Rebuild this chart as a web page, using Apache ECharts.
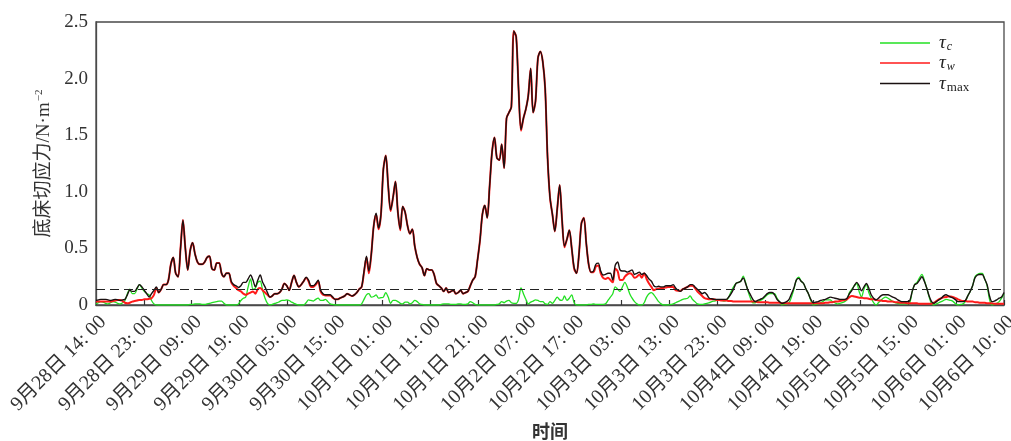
<!DOCTYPE html>
<html>
<head>
<meta charset="utf-8">
<script src="https://cdn.jsdelivr.net/npm/echarts@6/dist/echarts.min.js"></script>
<style>html,body{margin:0;padding:0;background:#fff}#c{width:1011px;height:441px}</style>
</head>
<body>
<div id="c"></div>
<script>
// sampling step of the series, hours from 9月28日 14:00
const STEP_HOURS = 0.5;
const TOTAL_HOURS = 188;
const tickLabels = ['9月28日 14: 00','9月28日 23: 00','9月29日 09: 00','9月29日 19: 00','9月30日 05: 00','9月30日 15: 00','10月1日 01: 00','10月1日 11: 00','10月1日 21: 00','10月2日 07: 00','10月2日 17: 00','10月3日 03: 00','10月3日 13: 00','10月3日 23: 00','10月4日 09: 00','10月4日 19: 00','10月5日 05: 00','10月5日 15: 00','10月6日 01: 00','10月6日 10: 00'];
const yTicks = [0, 0.5, 1.0, 1.5, 2.0, 2.5];
const threshold = 0.14;

const tauC = [
0.01,0.02,0.03,0.025,0.015,0.01,0.02,0.03,0.025,0.015,
0.01,0.02,0.04,0.1,0.14,0.1,0.1,0.14,0.18,0.15,
0.12,0.1,0.09,0.04,0.01,0,0,0,0,0,
0,0,0,0,0,0,0,0,0,0.005,
0.005,0.01,0.01,0.01,0.005,0.005,0.01,0.015,0.02,0.025,
0.03,0.035,0.035,0.015,0,0,0,0,0,0.01,
0.04,0.06,0.07,0.16,0.23,0.14,0.15,0.2,0.21,0.13,
0.06,0.015,0,0.005,0.015,0.02,0.03,0.04,0.04,0.045,
0.04,0.025,0.015,0.005,0,0,0,0.02,0.045,0.04,
0.035,0.05,0.06,0.04,0.04,0.05,0.03,0.01,0.005,0,
0,0,0,0,0,0,0,0,0,0,
0.01,0.05,0.09,0.1,0.07,0.075,0.09,0.06,0.065,0.07,
0.11,0.07,0.015,0.04,0.04,0.03,0.015,0.01,0.025,0.025,
0.01,0.02,0.04,0.03,0.01,0.005,0,0,0,0,
0,0,0,0.005,0.01,0.01,0.01,0.005,0.005,0.005,
0.01,0.01,0.005,0.005,0.01,0.03,0.02,0.005,0,0,
0,0,0,0,0,0,0.005,0.01,0.03,0.02,
0.035,0.04,0.02,0.015,0.015,0.05,0.15,0.1,0.05,0.01,
0.025,0.035,0.045,0.04,0.03,0.03,0.01,0.005,0.03,0.015,
0.04,0.07,0.045,0.04,0.08,0.04,0.06,0.09,0.02,0,
0,0,0,0,0.005,0.005,0.01,0.005,0.005,0.005,
0.005,0.01,0.04,0.07,0.1,0.16,0.14,0.12,0.16,0.2,
0.16,0.1,0.06,0.03,0.01,0,0,0.02,0.07,0.1,
0.11,0.09,0.06,0.03,0.01,0,0,0,0.005,0.01,
0.02,0.03,0.04,0.05,0.055,0.06,0.08,0.05,0.03,0.01,
0.005,0.005,0.01,0.015,0.02,0.03,0.035,0.04,0.045,0.04,
0.035,0.04,0.07,0.12,0.16,0.19,0.2,0.21,0.255,0.2,
0.12,0.06,0.02,0.02,0.03,0.04,0.05,0.07,0.09,0.1,
0.1,0.1,0.06,0.03,0,0.005,0.01,0.02,0.07,0.14,
0.22,0.245,0.21,0.19,0.14,0.1,0.04,0,0.005,0.01,
0.02,0.03,0.045,0.045,0.045,0.03,0.02,0.01,0.015,0.02,
0.03,0.05,0.11,0.14,0.17,0.19,0.12,0.07,0.14,0.18,
0.11,0.06,0.02,0,0.02,0.04,0.06,0.07,0.06,0.045,
0.03,0.02,0.015,0.01,0.01,0.01,0.01,0.02,0.12,0.18,
0.2,0.24,0.27,0.22,0.15,0.07,0.01,0,0.01,0.02,
0.03,0.04,0.05,0.045,0.04,0.03,0.01,0,0.005,0.01,
0.03,0.08,0.12,0.17,0.25,0.27,0.28,0.28,0.23,0.17,
0.05,0,0.005,0.015,0.03,0.06,0.1
];

const tauW = [
0.03,0.03,0.03,0.03,0.03,0.03,0.03,0.035,0.04,0.045,
0.045,0.035,0.02,0.015,0.02,0.03,0.035,0.04,0.045,0.045,
0.05,0.05,0.055,0.06,0.09,0.15,0.11,0.14,0.18,0.18,
0.22,0.36,0.42,0.28,0.25,0.5,0.75,0.5,0.31,0.48,
0.55,0.45,0.38,0.36,0.36,0.38,0.42,0.43,0.32,0.31,
0.37,0.37,0.28,0.25,0.28,0.28,0.2,0.17,0.15,0.13,
0.12,0.1,0.09,0.1,0.11,0.12,0.1,0.14,0.15,0.13,
0.11,0.09,0.07,0.08,0.10,0.10,0.11,0.14,0.19,0.17,
0.13,0.2,0.26,0.2,0.16,0.18,0.21,0.24,0.21,0.16,
0.16,0.18,0.21,0.12,0.09,0.085,0.085,0.085,0.065,0.05,
0.05,0.06,0.07,0.08,0.10,0.09,0.08,0.09,0.11,0.14,
0.16,0.29,0.42,0.28,0.45,0.7,0.8,0.67,0.8,1.2,
1.32,1.05,0.83,0.95,1.09,0.82,0.66,0.87,0.82,0.70,
0.63,0.67,0.52,0.42,0.36,0.33,0.26,0.32,0.31,0.31,
0.27,0.19,0.17,0.15,0.12,0.15,0.11,0.12,0.13,0.10,
0.11,0.13,0.10,0.11,0.12,0.17,0.22,0.25,0.40,0.57,
0.80,0.88,0.77,1.05,1.35,1.48,1.30,1.28,1.42,1.21,
1.65,1.7,1.75,2.42,2.37,1.9,1.54,1.65,1.73,1.85,
2.09,1.7,1.8,2.18,2.24,2.15,1.91,1.3,0.95,0.8,
0.65,0.85,1.06,0.75,0.51,0.58,0.66,0.5,0.32,0.28,
0.45,0.72,0.77,0.55,0.36,0.29,0.29,0.34,0.35,0.28,
0.24,0.23,0.24,0.22,0.2,0.32,0.3,0.22,0.22,0.25,
0.27,0.28,0.27,0.24,0.25,0.27,0.24,0.28,0.23,0.19,
0.16,0.13,0.14,0.145,0.15,0.15,0.155,0.16,0.16,0.16,
0.13,0.125,0.125,0.14,0.15,0.16,0.17,0.17,0.15,0.12,
0.1,0.08,0.06,0.055,0.05,0.05,0.05,0.045,0.045,0.04,
0.04,0.04,0.035,0.035,0.03,0.03,0.03,0.03,0.03,0.03,
0.03,0.03,0.03,0.03,0.025,0.025,0.025,0.025,0.025,0.02,
0.02,0.02,0.02,0.02,0.015,0.015,0.015,0.015,0.015,0.015,
0.015,0.015,0.015,0.015,0.015,0.015,0.015,0.015,0.015,0.015,
0.015,0.015,0.02,0.02,0.025,0.025,0.03,0.03,0.035,0.04,
0.045,0.05,0.07,0.08,0.075,0.07,0.065,0.065,0.06,0.06,
0.055,0.05,0.05,0.045,0.04,0.04,0.035,0.035,0.03,0.03,
0.03,0.025,0.025,0.02,0.02,0.02,0.015,0.015,0.015,0.015,
0.015,0.01,0.01,0.01,0.01,0.01,0.01,0.02,0.035,0.05,
0.06,0.068,0.07,0.075,0.075,0.07,0.06,0.05,0.04,0.035,
0.035,0.03,0.03,0.03,0.025,0.025,0.02,0.02,0.02,0.015,
0.015,0.015,0.01,0.01,0.01,0.01,0.01
];

const tauMax = [
0.04,0.045,0.05,0.05,0.05,0.045,0.04,0.045,0.05,0.045,
0.04,0.045,0.05,0.09,0.13,0.12,0.12,0.15,0.18,0.16,
0.13,0.10,0.07,0.10,0.13,0.16,0.11,0.14,0.18,0.18,
0.22,0.36,0.42,0.28,0.25,0.5,0.75,0.5,0.31,0.48,
0.55,0.45,0.38,0.36,0.36,0.38,0.42,0.43,0.32,0.31,
0.37,0.37,0.28,0.25,0.28,0.28,0.21,0.18,0.17,0.155,
0.17,0.2,0.2,0.23,0.265,0.22,0.16,0.22,0.265,0.2,
0.16,0.11,0.07,0.08,0.10,0.10,0.11,0.14,0.19,0.17,
0.13,0.2,0.26,0.2,0.16,0.18,0.21,0.245,0.22,0.17,
0.17,0.19,0.22,0.13,0.10,0.09,0.09,0.09,0.07,0.05,
0.05,0.06,0.07,0.08,0.10,0.09,0.08,0.09,0.11,0.14,
0.16,0.3,0.43,0.3,0.45,0.7,0.81,0.68,0.8,1.2,
1.32,1.05,0.84,0.95,1.09,0.82,0.67,0.87,0.82,0.70,
0.63,0.67,0.52,0.42,0.36,0.33,0.26,0.32,0.31,0.31,
0.27,0.19,0.17,0.15,0.12,0.15,0.11,0.12,0.13,0.10,
0.11,0.13,0.10,0.11,0.12,0.17,0.22,0.25,0.40,0.57,
0.80,0.88,0.77,1.05,1.35,1.48,1.30,1.28,1.42,1.21,
1.65,1.7,1.75,2.42,2.37,1.9,1.55,1.65,1.73,1.85,
2.09,1.7,1.8,2.18,2.24,2.15,1.91,1.3,0.95,0.8,
0.65,0.85,1.06,0.75,0.52,0.58,0.66,0.5,0.33,0.28,
0.45,0.72,0.77,0.55,0.36,0.29,0.30,0.36,0.37,0.30,
0.265,0.27,0.28,0.28,0.22,0.35,0.38,0.31,0.30,0.30,
0.29,0.30,0.31,0.27,0.28,0.29,0.27,0.28,0.26,0.23,
0.21,0.17,0.16,0.165,0.16,0.16,0.17,0.17,0.17,0.18,
0.15,0.13,0.12,0.14,0.15,0.16,0.18,0.18,0.16,0.14,
0.12,0.10,0.11,0.09,0.06,0.055,0.05,0.05,0.05,0.05,
0.05,0.05,0.07,0.10,0.14,0.19,0.2,0.21,0.24,0.19,
0.13,0.09,0.05,0.03,0.04,0.05,0.06,0.08,0.10,0.11,
0.11,0.09,0.05,0.03,0.015,0.02,0.03,0.05,0.1,0.15,
0.22,0.235,0.21,0.19,0.14,0.10,0.05,0.02,0.025,0.03,
0.04,0.045,0.05,0.06,0.07,0.065,0.06,0.055,0.05,0.05,
0.05,0.06,0.10,0.13,0.17,0.2,0.17,0.125,0.16,0.19,
0.15,0.09,0.06,0.045,0.06,0.08,0.09,0.09,0.09,0.08,
0.07,0.06,0.045,0.035,0.03,0.03,0.03,0.04,0.12,0.18,
0.19,0.22,0.25,0.21,0.15,0.08,0.03,0.015,0.03,0.045,
0.06,0.08,0.09,0.08,0.07,0.06,0.045,0.03,0.03,0.03,
0.04,0.08,0.12,0.17,0.24,0.265,0.27,0.27,0.23,0.18,
0.08,0.03,0.035,0.045,0.06,0.07,0.11
];

const SERIF = 'Liberation Serif, "Times New Roman", "Noto Sans CJK SC", serif';
const tickHours = tickLabels.map((_, k) => k * TOTAL_HOURS / (tickLabels.length - 1));
const toPairs = arr => arr.map((v, i) => [i * STEP_HOURS, v]);
const LINE_ICON = 'path://M0,0H50V1.6H0Z';

const chart = echarts.init(document.getElementById('c'), null, {renderer: 'canvas'});
chart.setOption({
  animation: false,
  backgroundColor: '#fff',
  grid: {left: 96, right: 7, top: 22, bottom: 136, containLabel: false, outerBoundsMode: 'none',
         show: true, borderColor: '#4a4a4a', borderWidth: 1.3},
  legend: {
    orient: 'vertical', left: 875, top: 28, itemWidth: 50, itemHeight: 14, itemGap: 0,
    icon: LINE_ICON,
    data: ['tc', 'tw', 'tmax'],
    formatter: n => ({tc: '{t|τ}{s|c}', tw: '{t|τ}{s|w}', tmax: '{t|τ}{m|max}'})[n],
    textStyle: {
      rich: {
        t: {fontFamily: SERIF, fontStyle: 'italic', fontSize: 19, lineHeight: 20, color: '#222', padding: [0, 0, 0, 4]},
        s: {fontFamily: SERIF, fontStyle: 'italic', fontSize: 12, lineHeight: 12, color: '#222', padding: [8, 0, 0, 1]},
        m: {fontFamily: SERIF, fontSize: 13, lineHeight: 12, color: '#222', padding: [8, 0, 0, 1]}
      }
    }
  },
  xAxis: {
    type: 'value', min: 0, max: TOTAL_HOURS,
    name: '时间', nameLocation: 'middle', nameGap: 119,
    nameTextStyle: {fontFamily: SERIF, fontSize: 18, fontWeight: 'bold', color: '#333'},
    axisLine: {show: true, lineStyle: {color: '#4a4a4a', width: 1.3}},
    axisTick: {show: true, inside: true, length: 5, customValues: tickHours, lineStyle: {color: '#333', width: 1.2}},
    axisLabel: {
      customValues: tickHours, rotate: 45, margin: 7, verticalAlign: 'top',
      fontFamily: SERIF, fontSize: 20, color: '#333',
      formatter: v => tickLabels[Math.round(v * (tickLabels.length - 1) / TOTAL_HOURS)]
    },
    splitLine: {show: false}
  },
  yAxis: {
    type: 'value', min: 0, max: 2.5, interval: 0.5,
    name: '底床切应力/N·m{sup|−2}', nameLocation: 'middle', nameGap: 37,
    nameTextStyle: {fontFamily: SERIF, fontSize: 19, color: '#333',
      rich: {sup: {fontFamily: SERIF, fontSize: 11, color: '#333', padding: [0, 0, 9, 1]}}},
    axisLine: {show: true, lineStyle: {color: '#4a4a4a', width: 1.3}},
    axisTick: {show: false},
    axisLabel: {
      margin: 8, fontFamily: SERIF, fontSize: 19, color: '#333',
      customValues: yTicks,
      formatter: v => (v === 0 ? '0' : v.toFixed(1))
    },
    splitLine: {show: false}
  },
  series: [
    {name: 'tc', type: 'line', data: toPairs(tauC), symbol: 'none', smooth: 0.3, legendIcon: LINE_ICON,
     lineStyle: {color: '#22e022', width: 1.3}, itemStyle: {color: '#22e022'}, z: 2},
    {name: 'tw', type: 'line', data: toPairs(tauW), symbol: 'none', smooth: 0.3, legendIcon: LINE_ICON,
     lineStyle: {color: '#ff1a1a', width: 2}, itemStyle: {color: '#ff1a1a'}, z: 3},
    {name: 'tmax', type: 'line', data: toPairs(tauMax), symbol: 'none', smooth: 0.3, legendIcon: LINE_ICON,
     lineStyle: {color: '#1a1010', width: 1.4}, itemStyle: {color: '#1a1010'}, z: 4,
     markLine: {silent: true, symbol: 'none', label: {show: false},
       lineStyle: {color: '#222', type: [9, 5], width: 1.2},
       data: [{yAxis: threshold}]}}
  ]
});
</script>
</body>
</html>
